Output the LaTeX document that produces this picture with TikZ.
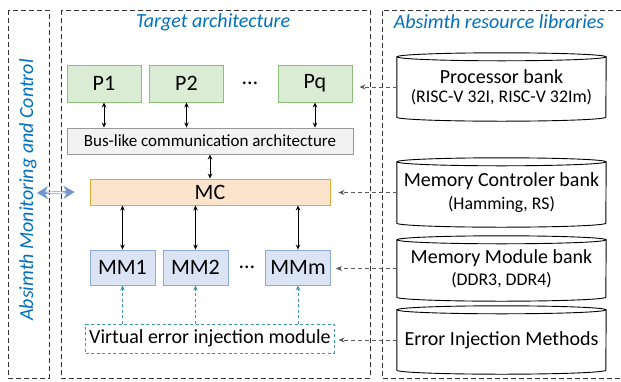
\documentclass[tikz,border=0pt]{standalone}
\usepackage{fontspec}
\setmainfont{Carlito}
\usepackage{xcolor}
\usepackage{tikz}
\usetikzlibrary{arrows.meta,positioning,calc}

\definecolor{titleblue}{RGB}{0,112,192}
\definecolor{procfill}{RGB}{218,236,212}
\definecolor{procdraw}{RGB}{140,190,120}
\definecolor{mcfill}{RGB}{252,228,204}
\definecolor{mcdraw}{RGB}{225,170,50}
\definecolor{memfill}{RGB}{218,228,245}
\definecolor{memdraw}{RGB}{140,170,220}
\definecolor{injdraw}{RGB}{60,150,170}
\definecolor{monblue}{RGB}{115,150,205}

\tikzset{
  panel/.style={draw=black!80,dashed,line width=0.9pt,dash pattern=on 5pt off 3pt},
  paneltitle/.style={text=titleblue,font=\fontsize{20pt}{24pt}\selectfont\itshape},
  procbox/.style={draw=procdraw,fill=procfill,line width=0.9pt,minimum width=74pt,minimum height=37pt,font=\fontsize{22pt}{26pt}\selectfont},
  busbox/.style={draw=black!40,fill=black!5,line width=0.9pt,minimum width=286pt,minimum height=26pt,font=\fontsize{17pt}{20pt}\selectfont},
  mcbox/.style={draw=mcdraw,fill=mcfill,line width=0.9pt,minimum width=240pt,minimum height=26pt,font=\fontsize{22pt}{26pt}\selectfont},
  membox/.style={draw=memdraw,fill=memfill,line width=0.9pt,minimum width=65pt,minimum height=35pt,inner sep=1pt,font=\fontsize{22pt}{26pt}\selectfont},
  injbox/.style={draw=injdraw,dashed,dash pattern=on 3pt off 2.5pt,line width=0.9pt,minimum width=246pt,minimum height=29pt,font=\fontsize{20pt}{24pt}\selectfont},
  bank/.style={minimum width=209pt,minimum height=#1,align=center,inner sep=0pt},
  banktitle/.style={font=\fontsize{20pt}{24pt}\selectfont},
  dots/.style={font=\fontsize{22pt}{26pt}\selectfont},
  biarrow/.style={{Stealth[length=5pt,width=4.5pt]}-{Stealth[length=5pt,width=4.5pt]},line width=0.9pt},
  injarrow/.style={-{Stealth[length=5pt,width=4.5pt]},draw=injdraw,dashed,dash pattern=on 3pt off 2.5pt,line width=0.9pt},
  libarrow/.style={-{Stealth[length=6pt,width=5pt]},draw=black!65,dashed,dash pattern=on 4pt off 3pt,line width=0.9pt},
}

\newcommand{\subline}[1]{{\fontsize{17.8pt}{21pt}\selectfont #1}}

\begin{document}
\begin{tikzpicture}[x=1pt,y=1pt]
\useasboundingbox (0,0) rectangle (621,-381);

% panels
\draw[panel] (8,-10) rectangle (49,-378);
\draw[panel] (61,-10) rectangle (370,-378);
\draw[panel] (621,-10) -- (382,-10) -- (382,-378) -- (621,-378);
\node[paneltitle] (ttarget) at (213,-22) {Target architecture};
\node[paneltitle] (tlib) at (499,-22) {Absimth resource libraries};
\node[paneltitle,rotate=90] (tmon) at (28,-190) {Absimth Monitoring and Control};

% processors and bus
\node[procbox] (p1) at (104,-83.5) {P1};
\node[procbox] (p2) at (186.5,-83.5) {P2};
\node[procbox] (pq) at (315,-83.5) {Pq};
\node[dots] (pdots) at (250,-83) {…};
\node[busbox] (bus) at (210,-141) {Bus-like communication architecture};
\foreach \p in {p1,p2,pq}
  \draw[biarrow] (\p.south) -- (\p.south |- bus.north);

% memory controller and modules
\node[mcbox] (mc) at (210,-192) {MC};
\draw[biarrow] (bus.south) -- (mc.north);
\node[membox] (mm1) at (122.5,-267.5) {MM1};
\node[membox] (mm2) at (195.5,-267.5) {MM2};
\node[membox] (mmm) at (298,-267.5) {MMm};
\node[dots] (mdots) at (247,-267) {…};
\node[injbox] (inj) at (210,-338.5) {Virtual error injection module};
\foreach \m in {mm1,mm2,mmm} {
  \draw[biarrow] (\m.north |- mc.south) -- (\m.north);
  \draw[injarrow] (\m.south |- inj.north) -- (\m.south);
}

% monitoring link
\coordinate (mon) at (37,-193);
\draw[monblue,line width=2.2pt,{Stealth[length=11pt,width=13pt]}-{Stealth[length=11pt,width=13pt]}]
  (mon) -- ([xshift=-15pt]mc.west);
\draw[white,line width=0.8pt,shorten <=10pt,shorten >=10pt] (mon) -- ([xshift=-15pt]mc.west);

% resource banks
\node[bank=60pt] (pb) at (501.5,-87) {{\fontsize{20pt}{24pt}\selectfont Processor bank}\\[5pt]\subline{(RISC-V 32I, RISC-V 32Im)}};
\node[bank=61pt] (mcb) at (501.5,-192.5) {{\fontsize{20pt}{24pt}\selectfont Memory Controler bank}\\[6pt]\subline{(Hamming, RS)}};
\node[bank=57pt] (mmb) at (501.5,-268.5) {{\fontsize{20pt}{24pt}\selectfont Memory Module bank}\\[5pt]\subline{(DDR3, DDR4)}};
\node[bank=60pt,banktitle] (eib) at (501.5,-340) {Error Injection Methods};
\foreach \b in {pb,mcb,mmb,eib} {
  \draw[line width=0.9pt] (\b.north) ellipse [x radius=104.5pt,y radius=4pt];
  \draw[line width=0.9pt] (\b.north west) -- (\b.south west)
    arc[start angle=180,end angle=360,x radius=104.5pt,y radius=4pt] -- (\b.north east);
}
\draw[libarrow] (pb.west) -- ([xshift=7pt]pb.west -| pq.east);
\draw[libarrow] (mcb.west) -- ([xshift=8pt]mcb.west -| mc.east);
\draw[libarrow] (mmb.west) -- ([xshift=5pt]mmb.west -| mmm.east);
\draw[libarrow] (eib.west) -- ([xshift=4pt]eib.west -| inj.east);
\end{tikzpicture}
\end{document}
